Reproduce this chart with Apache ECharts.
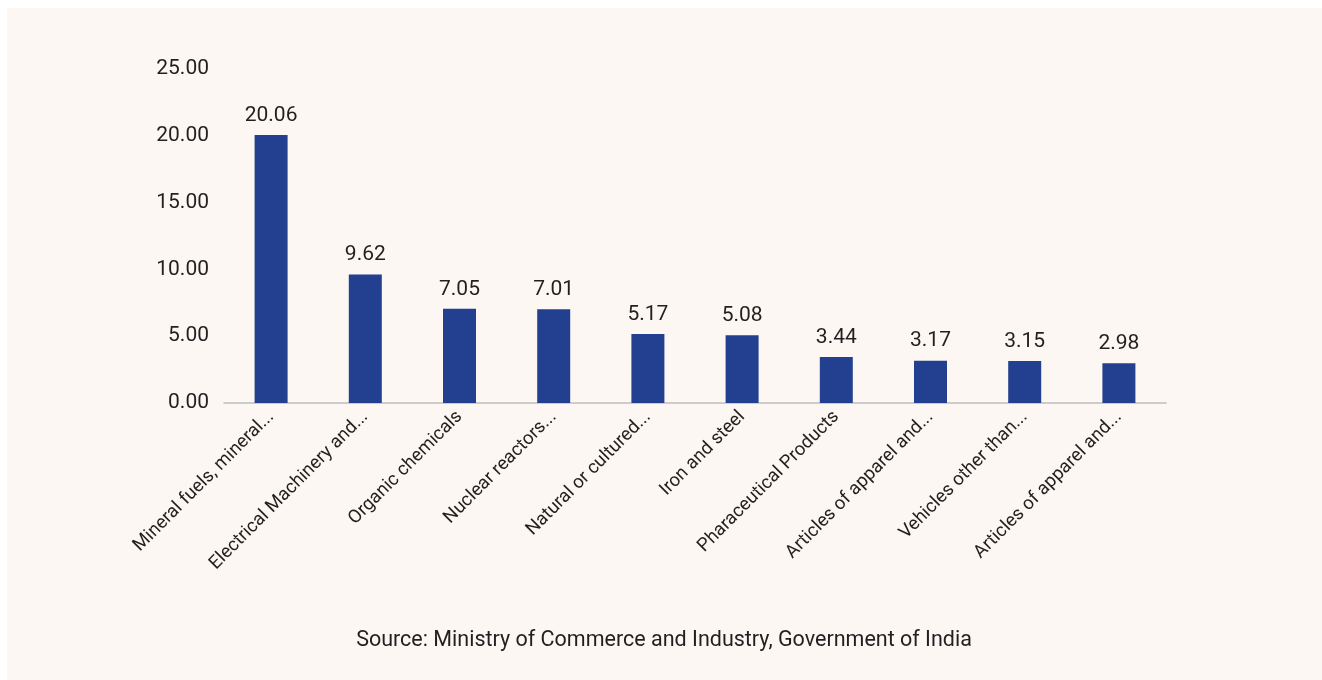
<!DOCTYPE html>
<html>
<head>
<meta charset="utf-8">
<script src="https://cdn.jsdelivr.net/npm/echarts@6/dist/echarts.min.js"></script>
<style>
  html, body { margin: 0; padding: 0; background: #ffffff; }
  #panel { position: absolute; left: 7px; top: 8px; width: 1315px; height: 672px; background: #fcf7f3; }
  #chart { position: absolute; left: 0; top: 0; width: 1322px; height: 680px; }
</style>
</head>
<body>
<div id="panel"></div>
<div id="chart"></div>
<script>
// Top export commodities (share, %)
const categories = [
  'Mineral fuels, mineral...',
  'Electrical Machinery and...',
  'Organic chemicals',
  'Nuclear reactors...',
  'Natural or cultured...',
  'Iron and steel',
  'Pharaceutical Products',
  'Articles of apparel and...',
  'Vehicles other than...',
  'Articles of apparel and...'
];
const shares = [20.06, 9.62, 7.05, 7.01, 5.17, 5.08, 3.44, 3.17, 3.15, 2.98];
const yTicks = [0, 5, 10, 15, 20, 25];
const sourceNote = 'Source: Ministry of Commerce and Industry, Government of India';

const FONT = 'Roboto';
const TEXT = '#231f20';

const chart = echarts.init(document.getElementById('chart'), null, { renderer: 'canvas' });
chart.setOption({
  backgroundColor: 'transparent',
  animation: false,
  textStyle: { fontFamily: FONT },
  grid: { left: 224, right: 156, top: 69, bottom: 277, containLabel: false },
  xAxis: {
    type: 'category',
    data: categories,
    axisLine: { show: true, lineStyle: { color: '#bfbfbf', width: 1.5 } },
    axisTick: { show: false },
    axisLabel: {
      interval: 0,
      rotate: 45,
      margin: 11,
      color: TEXT,
      fontSize: 18.5,
      fontFamily: FONT
    }
  },
  yAxis: {
    type: 'value',
    min: yTicks[0],
    max: yTicks[yTicks.length - 1],
    interval: 5,
    axisLine: { show: false },
    axisTick: { show: false },
    splitLine: { show: false },
    axisLabel: {
      color: TEXT,
      fontSize: 21,
      fontFamily: FONT,
      margin: 15,
      formatter: v => v.toFixed(2)
    }
  },
  series: [{
    type: 'bar',
    data: shares,
    barWidth: 33,
    itemStyle: { color: '#233f8f' },
    label: {
      show: true,
      position: 'top',
      distance: 9,
      color: TEXT,
      fontSize: 21,
      fontFamily: FONT,
      formatter: p => p.value.toFixed(2)
    }
  }],
  graphic: [{
    type: 'text',
    x: 664,
    y: 641,
    style: {
      text: sourceNote,
      fill: TEXT,
      font: '21.5px ' + FONT,
      align: 'center',
      verticalAlign: 'middle'
    }
  }]
});
</script>
</body>
</html>
